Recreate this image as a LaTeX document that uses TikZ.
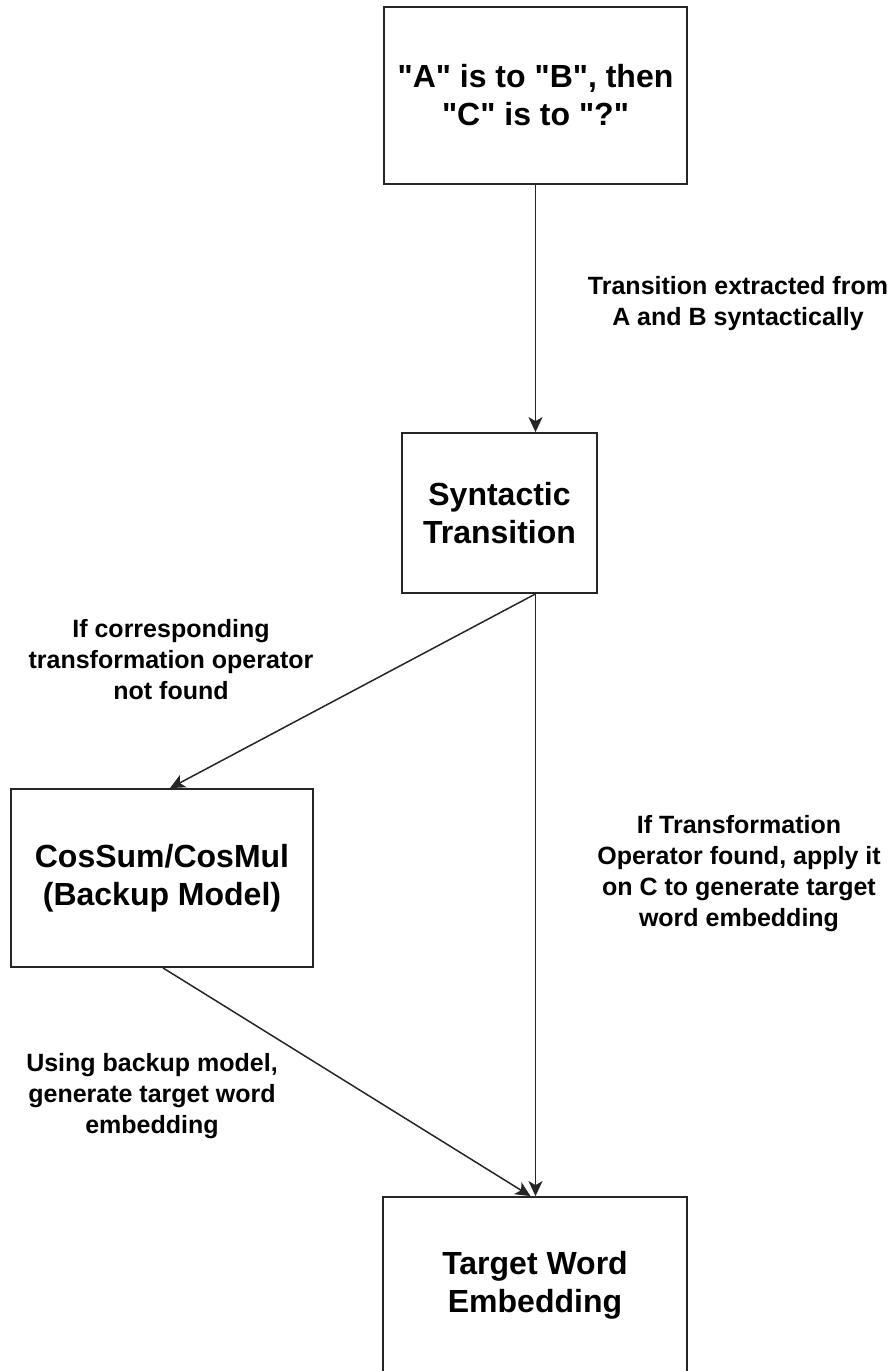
\documentclass[tikz,border=0pt]{standalone}
\usepackage{fontspec}
\setmainfont{Liberation Sans}[Ligatures=TeXOff]
\usetikzlibrary{arrows.meta}

\begin{document}
\begin{tikzpicture}[x=1pt, y=-1pt,
  stagebox/.style={draw=black!85, line width=1.8pt, fill=white, rectangle,
    align=center, inner sep=0pt,
    font=\fontsize{32}{38}\selectfont\bfseries},
  edgelabel/.style={align=center, inner sep=0pt,
    font=\fontsize{25}{31}\selectfont\bfseries},
  flow/.style={draw=black!85, line width=1.5pt,
    -{Stealth[length=15pt, width=14pt, inset=4pt]}}]

  \useasboundingbox (0,0) rectangle (896,1371);
  \clip (0,0) rectangle (896,1371);

  % processing stages
  \node[stagebox, minimum width=303pt, minimum height=177pt] (query) at (535.5,95.5)
    {"A" is to "B", then\\"C" is to "?"};
  \node[stagebox, minimum width=195pt, minimum height=160pt] (syn) at (499.5,513)
    {Syntactic\\Transition};
  \node[stagebox, minimum width=302pt, minimum height=178pt] (backup) at (162,878)
    {CosSum/CosMul\\(Backup Model)};
  \node[stagebox, minimum width=304pt, minimum height=177pt] (target) at (535,1285.5)
    {Target Word\\Embedding};

  % connector end points
  \coordinate (synout) at (query.south |- syn.south);
  \coordinate (synin) at (query.south |- syn.north);
  \coordinate (tgtin) at (query.south |- target.north);
  \coordinate (backin) at ([xshift=8pt]backup.north);
  \coordinate (tgtside) at ([xshift=-5pt]tgtin);

  % connectors
  \draw[flow] (query.south) -- (synin);
  \draw[flow] (synout) -- (backin);
  \draw[flow] (synout) -- (tgtin);
  \draw[flow] ([xshift=1pt]backup.south) -- (tgtside);

  % connector labels
  \node[edgelabel] (l1) at (738,304) {Transition extracted from\\A and B syntactically};
  \node[edgelabel] (l2) at (171,660) {If corresponding\\transformation operator\\not found};
  \node[edgelabel] (l3) at (739,874) {If Transformation\\Operator found, apply it\\on C to generate target\\word embedding};
  \node[edgelabel] (l4) at (152,1096) {Using backup model,\\generate target word\\embedding};
\end{tikzpicture}
\end{document}
